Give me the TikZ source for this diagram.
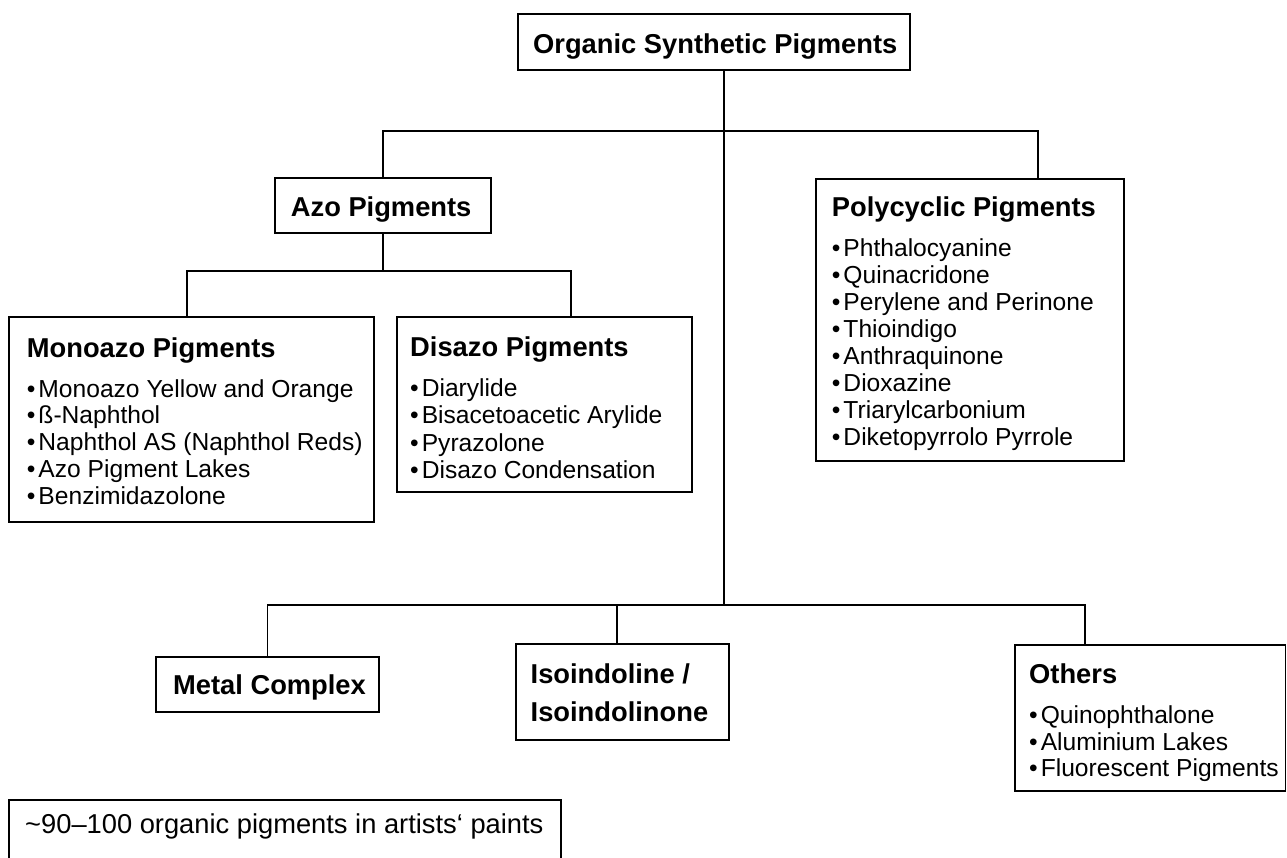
\documentclass[tikz,border=0pt]{standalone}
\usepackage{fontspec}
\setmainfont{Liberation Sans}
\newcommand\pbox[5]{\node[box, minimum width={#4-#2}, minimum height={#5-#3}] (#1) at (#2,#3) {};}
\newcommand\bulletlist[5]{\foreach \t [count=\i from 0] in {#5} {\node[itm] (#1\i) at (#2,{#3+#4*\i}) {•\hspace{3pt}\t};}}
\tikzset{
  box/.style={draw=black, line width=1.8pt, inner sep=0pt, outer sep=0pt, anchor=north west, fill=white},
  conn/.style={draw=black, line width=1.8pt},
  ttl/.style={anchor=base west, inner sep=0pt, font=\fontsize{27.3}{32}\selectfont\bfseries},
  itm/.style={anchor=base west, inner sep=0pt, font=\fontsize{24.6}{27}\selectfont},
  notetext/.style={anchor=base west, inner sep=0pt, font=\fontsize{27.3}{32}\selectfont},
}
\begin{document}
\begin{tikzpicture}[x=1pt,y=-1pt]
\useasboundingbox (0,0) rectangle (1287,857);
\clip (0,0) rectangle (1287,857);
\fill[white] (0,0) rectangle (1287,857);

% junction coordinates
\coordinate (tr) at (724,605);
\coordinate (j1L) at (383,131);
\coordinate (j1R) at (1038,131);
\coordinate (j2L) at (187,271);
\coordinate (j2R) at (571,271);
\coordinate (j3L) at (267.5,605);
\coordinate (j3M) at (617,605);
\coordinate (j3R) at (1085,605);

% boxes
\pbox{top}{518}{14}{910}{70}
\pbox{azo}{275}{178}{491}{233}
\pbox{mono}{9}{317}{374}{522}
\pbox{dis}{397}{317}{692}{492}
\pbox{poly}{816}{179}{1124}{461}
\pbox{metal}{156}{657}{379}{712}
\pbox{iso}{516}{644}{729}{740}
\pbox{others}{1015}{645}{1285.5}{791}
\pbox{note}{9}{800}{561}{870}

% connectors
\draw[conn] (top.south -| tr) -- (tr);
\draw[conn] (azo.north) -- (j1L) -- (j1R) -- (poly.north -| j1R);
\draw[conn] (azo.south) -- (azo.south |- j2L);
\draw[conn] (mono.north -| j2L) -- (j2L) -- (j2R) -- (dis.north -| j2R);
\draw[conn] (metal.north) -- (metal.north |- j3L) -- (j3R) -- (others.north -| j3R);
\draw[conn] (j3M) -- (iso.north -| j3M);

% titles
\node[ttl] (tTop) at (533,53.3) {Organic Synthetic Pigments};
\node[ttl] (tAzo) at (290.7,216.7) {Azo Pigments};
\node[ttl] (tMono) at (26.7,357) {Monoazo Pigments};
\node[ttl] (tDis) at (410,356.7) {Disazo Pigments};
\node[ttl] (tPoly) at (831.7,216.7) {Polycyclic Pigments};
\node[ttl] (tMetal) at (173,694) {Metal Complex};
\node[ttl] (tIso1) at (530.5,683.3) {Isoindoline /};
\node[ttl] (tIso2) at (530.5,721.7) {Isoindolinone};
\node[ttl] (tOth) at (1029,683.3) {Others};
\node[notetext] (tNote) at (25,833) {{\char"7E}90–100 organic pigments in artists‘ paints};

% item lists
\bulletlist{mI}{26.7}{397}{26.75}{Monoazo Yellow and Orange, ß-Naphthol, Naphthol AS (Naphthol Reds), Azo Pigment Lakes, Benzimidazolone}
\bulletlist{dI}{410}{396.7}{27.2}{Diarylide, Bisacetoacetic Arylide, Pyrazolone, Disazo Condensation}
\bulletlist{pI}{831.7}{256}{27}{Phthalocyanine, Quinacridone, Perylene and Perinone, Thioindigo, Anthraquinone, Dioxazine, Triarylcarbonium, Diketopyrrolo Pyrrole}
\bulletlist{oI}{1029}{723.3}{26.7}{Quinophthalone, Aluminium Lakes, Fluorescent Pigments}
\end{tikzpicture}
\end{document}
